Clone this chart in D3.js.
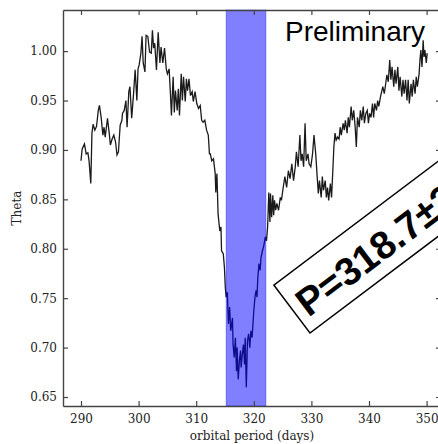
<!DOCTYPE html>
<html>
<head>
<meta charset="utf-8">
<script src="https://cdn.jsdelivr.net/npm/d3@7"></script>
<style>
  body { margin: 0; background: #fff; }
  svg { display: block; }
</style>
</head>
<body>
<div id="chart"></div>
<script>
// orbital period (days) and Theta
const period = [
  290.0, 290.2, 290.6, 290.9, 291.2, 291.4, 291.7, 291.9, 292.1, 292.4, 292.7, 293.0,
  293.2, 293.5, 293.8, 294.0, 294.2, 294.6, 294.9, 295.1, 295.4, 295.7, 296.0, 296.25,
  296.5, 296.8, 297.1, 297.2, 297.5, 297.8, 298.0, 298.3, 298.5, 298.8, 299.1, 299.4,
  299.7, 299.9, 300.1, 300.4, 300.6, 300.8, 301.1, 301.3, 301.6, 301.9, 302.2, 302.4,
  302.6, 302.8, 303.1, 303.4, 303.7, 303.9, 304.2, 304.5, 304.8, 305.0, 305.3, 305.5,
  305.7, 306.0, 306.2, 306.4, 306.7, 306.9, 307.1, 307.4, 307.6, 307.8, 308.1, 308.3,
  308.5, 308.75, 309.0, 309.3, 309.5, 309.8, 310.1, 310.4, 310.7, 310.95, 311.2, 311.5,
  311.8, 312.1, 312.3, 312.45, 312.7, 313.0, 313.3, 313.4, 313.6, 313.8, 314.1, 314.3,
  314.4, 314.7, 314.9, 315.05, 315.2, 315.4, 315.6, 315.8, 316.0, 316.3, 316.4, 316.6,
  316.8, 317.0, 317.1, 317.3, 317.5, 317.7, 317.8, 318.0, 318.2, 318.4, 318.5, 318.7,
  318.9, 319.1, 319.3, 319.5, 319.7, 320.0, 320.2, 320.4, 320.55, 320.7, 320.9, 321.1,
  321.25, 321.5, 321.7, 322.0, 322.2, 322.4, 322.6, 322.8, 322.9, 323.1, 323.3, 323.45,
  323.6, 323.8, 324.0, 324.3, 324.6, 324.8, 325.1, 325.4, 325.7, 326.0, 326.3, 326.6,
  326.9, 327.2, 327.4, 327.7, 328.0, 328.2, 328.4, 328.65, 328.9, 329.1, 329.4, 329.6,
  329.9, 330.2, 330.45, 330.75, 331.0, 331.2, 331.4, 331.7, 331.9, 332.1, 332.4, 332.6,
  332.8, 333.0, 333.3, 333.5, 333.75, 333.9, 334.1, 334.3, 334.55, 334.8, 335.0, 335.2,
  335.5, 335.7, 335.9, 336.2, 336.4, 336.6, 336.9, 337.1, 337.35, 337.6, 337.8, 338.0,
  338.3, 338.5, 338.75, 339.0, 339.2, 339.45, 339.7, 339.9, 340.1, 340.35, 340.6, 340.8,
  341.0, 341.3, 341.5, 341.7, 342.0, 342.2, 342.4, 342.65, 342.9, 343.1, 343.35, 343.6,
  343.8, 344.0, 344.3, 344.5, 344.7, 345.0, 345.2, 345.4, 345.7, 345.9, 346.1, 346.35,
  346.6, 346.8, 347.0, 347.3, 347.5, 347.7, 348.0, 348.2, 348.4, 348.7, 348.85, 349.0,
  349.2, 349.4, 349.55, 349.7, 349.95, 350.1
];
const theta = [
  0.889, 0.901, 0.906, 0.896, 0.897, 0.889, 0.866, 0.917, 0.926, 0.920, 0.924, 0.940,
  0.945, 0.933, 0.915, 0.923, 0.913, 0.932, 0.917, 0.905, 0.911, 0.915, 0.908, 0.895,
  0.898, 0.925, 0.930, 0.937, 0.940, 0.950, 0.923, 0.959, 0.964, 0.932, 0.955, 0.981,
  0.950, 0.982, 0.986, 0.998, 1.015, 0.988, 0.979, 1.016, 1.015, 0.999, 0.998, 1.021,
  1.003, 1.008, 0.981, 1.019, 0.988, 1.004, 0.988, 1.003, 0.982, 0.977, 0.982, 0.960,
  0.935, 0.974, 0.938, 0.960, 0.940, 0.962, 0.935, 0.977, 0.950, 0.974, 0.949, 0.972,
  0.960, 0.972, 0.955, 0.959, 0.949, 0.959, 0.947, 0.942, 0.945, 0.930, 0.928, 0.930,
  0.920, 0.915, 0.896, 0.896, 0.889, 0.891, 0.876, 0.857, 0.876, 0.835, 0.818, 0.822,
  0.798, 0.795, 0.781, 0.761, 0.751, 0.756, 0.724, 0.741, 0.717, 0.730, 0.703, 0.690,
  0.710, 0.676, 0.700, 0.668, 0.687, 0.697, 0.680, 0.693, 0.703, 0.683, 0.710, 0.660,
  0.707, 0.714, 0.700, 0.717, 0.710, 0.737, 0.751, 0.758, 0.751, 0.771, 0.785, 0.778,
  0.791, 0.798, 0.802, 0.812, 0.808, 0.822, 0.857, 0.827, 0.856, 0.832, 0.854, 0.834,
  0.849, 0.839, 0.846, 0.839, 0.852, 0.849, 0.862, 0.873, 0.862, 0.879, 0.871, 0.886,
  0.869, 0.883, 0.898, 0.883, 0.915, 0.889, 0.896, 0.883, 0.927, 0.889, 0.896, 0.886,
  0.883, 0.896, 0.915, 0.896, 0.873, 0.856, 0.869, 0.852, 0.873, 0.859, 0.869, 0.852,
  0.862, 0.849, 0.866, 0.852, 0.883, 0.903, 0.917, 0.910, 0.913, 0.911, 0.923, 0.915,
  0.927, 0.920, 0.930, 0.917, 0.933, 0.923, 0.944, 0.930, 0.940, 0.923, 0.903, 0.933,
  0.923, 0.940, 0.930, 0.944, 0.927, 0.937, 0.940, 0.927, 0.937, 0.933, 0.947, 0.933,
  0.947, 0.940, 0.950, 0.944, 0.954, 0.959, 0.964, 0.957, 0.967, 0.976, 0.969, 0.991,
  0.971, 0.984, 0.964, 0.981, 0.967, 0.984, 0.960, 0.974, 0.954, 0.971, 0.957, 0.971,
  0.950, 0.971, 0.947, 0.967, 0.954, 0.971, 0.957, 0.974, 0.964, 0.977, 0.991, 1.001,
  0.984, 1.011, 0.994, 1.001, 0.988, 0.998
];
// shaded period window
const band = [315.2, 322.1];
const xTicks = [290, 300, 310, 320, 330, 340, 350];
const yTicks = [0.65, 0.70, 0.75, 0.80, 0.85, 0.90, 0.95, 1.00];
const xLabel = "orbital period (days)";
const yLabel = "Theta";
const stamp = "Preliminary";
const result = "P=318.7\u00b13.0 days";

const W = 438, H = 444;
const m = { left: 63, right: 441, top: 10, bottom: 406 };

const svg = d3.select("#chart").append("svg")
  .attr("width", W)
  .attr("height", H);

const x = d3.scaleLinear().domain([286.875, 352.5]).range([m.left, m.right]);
const y = d3.scaleLinear().domain([0.6409, 1.0416]).range([m.bottom, m.top]);

svg.append("clipPath").attr("id", "plot")
  .append("rect")
  .attr("x", m.left).attr("y", m.top)
  .attr("width", m.right - m.left).attr("height", m.bottom - m.top);

const pts = period.map((p, i) => [p, theta[i]]);
const line = d3.line().x(d => x(d[0])).y(d => y(d[1]));

svg.append("path")
  .datum(pts)
  .attr("clip-path", "url(#plot)")
  .attr("d", line)
  .attr("fill", "none")
  .attr("stroke", "#1a1a1a")
  .attr("stroke-width", 1.3);

// band drawn on top, half transparent like axvspan
svg.append("rect")
  .attr("x", x(band[0]))
  .attr("y", m.top)
  .attr("width", x(band[1]) - x(band[0]))
  .attr("height", m.bottom - m.top)
  .attr("fill", "rgb(0,0,255)")
  .attr("fill-opacity", 0.5)
  .attr("stroke", "rgb(0,0,255)")
  .attr("stroke-opacity", 0.35)
  .attr("stroke-width", 1);

// axes, ticks pointing inward on every side
const font = "'DejaVu Serif', serif";
const axisColor = "#444";

const gx = svg.append("g").attr("transform", `translate(0,${m.bottom})`)
  .call(d3.axisBottom(x).tickValues(xTicks).tickSizeInner(-5).tickSizeOuter(0).tickPadding(8));
const gxTop = svg.append("g").attr("transform", `translate(0,${m.top})`)
  .call(d3.axisTop(x).tickValues(xTicks).tickSizeInner(-5).tickSizeOuter(0).tickFormat(""));
const gy = svg.append("g").attr("transform", `translate(${m.left},0)`)
  .call(d3.axisLeft(y).tickValues(yTicks).tickSizeInner(-5).tickSizeOuter(0).tickPadding(6)
    .tickFormat(d3.format(".2f")));
const gyRight = svg.append("g").attr("transform", `translate(${m.right},0)`)
  .call(d3.axisRight(y).tickValues(yTicks).tickSizeInner(-5).tickSizeOuter(0).tickFormat(""));

[gx, gxTop, gy, gyRight].forEach(g => {
  g.select(".domain").attr("stroke", axisColor).attr("stroke-width", 1.4);
  g.selectAll(".tick line").attr("stroke", axisColor).attr("stroke-width", 1.2);
  g.selectAll(".tick text")
    .attr("fill", "#222")
    .style("font-family", font)
    .style("font-size", "12px");
});

svg.append("text")
  .attr("x", (m.left + m.right) / 2)
  .attr("y", 440)
  .attr("text-anchor", "middle")
  .style("font-family", font)
  .style("font-size", "12px")
  .attr("fill", "#222")
  .text(xLabel);

svg.append("text")
  .attr("transform", `translate(21,${(m.top + m.bottom) / 2}) rotate(-90)`)
  .attr("text-anchor", "middle")
  .style("font-family", font)
  .style("font-size", "12px")
  .attr("fill", "#222")
  .text(yLabel);

svg.append("text")
  .attr("x", 285)
  .attr("y", 41)
  .style("font-family", "'Liberation Sans', Arial, sans-serif")
  .style("font-size", "28px")
  .attr("fill", "#000")
  .text(stamp);

// tilted result box, running off the right edge as in the original
const box = svg.append("g").attr("transform", "translate(310,333) rotate(-37)");
box.append("rect")
  .attr("x", 0).attr("y", -60)
  .attr("width", 340).attr("height", 60)
  .attr("fill", "#fff")
  .attr("stroke", "#000")
  .attr("stroke-width", 1.5);
box.append("text")
  .attr("x", 8)
  .attr("y", -13)
  .style("font-family", "'Liberation Sans', Arial, sans-serif")
  .style("font-size", "39px")
  .style("font-weight", "bold")
  .attr("fill", "#000")
  .text(result);
</script>
</body>
</html>
